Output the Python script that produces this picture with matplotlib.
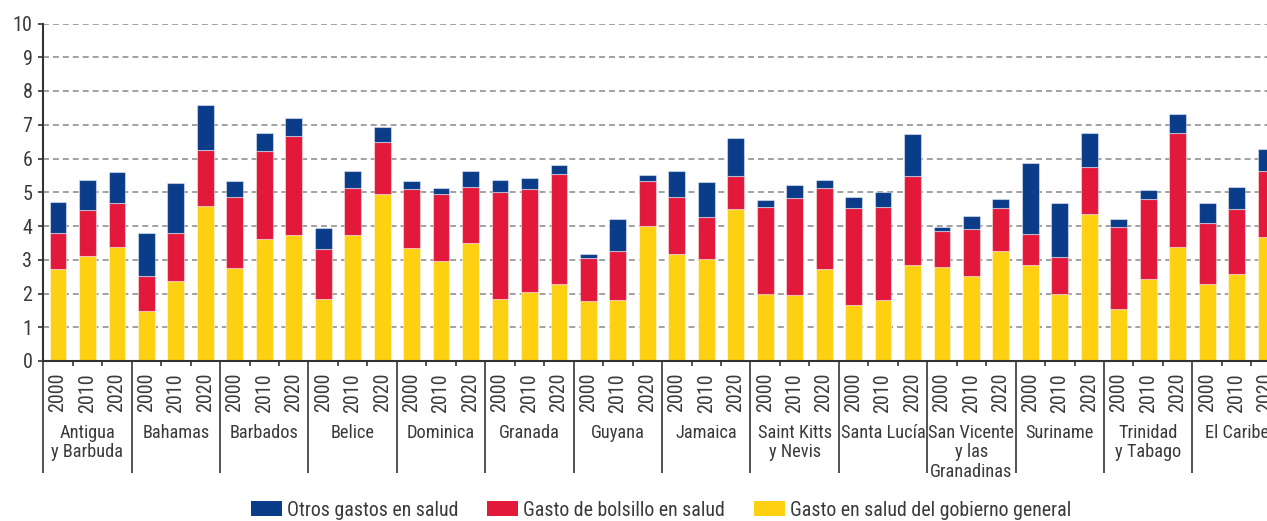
import matplotlib
matplotlib.use("Agg")
import matplotlib.pyplot as plt
from matplotlib import font_manager as fm
from matplotlib.patches import Patch
from matplotlib.ticker import FixedLocator, NullFormatter
import numpy as np

# ---- data -------------------------------------------------------------
countries = ["Antigua\ny Barbuda", "Bahamas", "Barbados", "Belice", "Dominica",
             "Granada", "Guyana", "Jamaica", "Saint Kitts\ny Nevis", "Santa Lucía",
             "San Vicente\ny las\nGranadinas", "Suriname", "Trinidad\ny Tabago",
             "El Caribe"]
years = ["2000", "2010", "2020"]

# general-government health expenditure (% of GDP)
gobierno = [2.72, 3.12, 3.37,  1.49, 2.36, 4.58,  2.76, 3.61, 3.73,
            1.84, 3.73, 4.96,  3.34, 2.95, 3.50,  1.84, 2.05, 2.27,
            1.78, 1.81, 4.01,  3.18, 3.03, 4.49,  2.00, 1.95, 2.74,
            1.66, 1.81, 2.83,  2.78, 2.53, 3.25,  2.83, 1.98, 4.37,
            1.55, 2.44, 3.37,  2.29, 2.57, 3.66]
# out-of-pocket health expenditure
bolsillo = [1.06, 1.34, 1.30,  1.04, 1.44, 1.66,  2.10, 2.60, 2.94,
            1.47, 1.39, 1.52,  1.77, 2.01, 1.66,  3.18, 3.06, 3.26,
            1.28, 1.46, 1.31,  1.67, 1.25, 1.00,  2.55, 2.88, 2.40,
            2.86, 2.75, 2.66,  1.07, 1.38, 1.28,  0.92, 1.11, 1.39,
            2.42, 2.36, 3.40,  1.79, 1.93, 1.97]
# other health expenditure
otros = [0.92, 0.91, 0.93,  1.26, 1.46, 1.35,  0.46, 0.56, 0.52,
         0.62, 0.50, 0.44,  0.21, 0.18, 0.48,  0.34, 0.30, 0.29,
         0.12, 0.93, 0.18,  0.79, 1.01, 1.11,  0.23, 0.38, 0.22,
         0.33, 0.46, 1.24,  0.11, 0.38, 0.28,  2.11, 1.60, 1.00,
         0.25, 0.27, 0.54,  0.61, 0.67, 0.65]

series_labels = ["Otros gastos en salud", "Gasto de bolsillo en salud",
                 "Gasto en salud del gobierno general"]

# ---- styling ----------------------------------------------------------
C_BLUE = "#0b3c8a"
C_RED = "#e2193a"
C_YELLOW = "#fdd012"
TXT = "#3a3a3a"

# pick a narrow sans-serif if one is installed
available = {f.name for f in fm.fontManager.ttflist}
stretch = "normal"
family = "Roboto"
for cand in ["Roboto Condensed", "Liberation Sans Narrow", "Open Sans Condensed"]:
    if cand in available:
        family = cand
        break
else:
    if any(f.name == "DejaVu Sans" and f.stretch == "condensed" for f in fm.fontManager.ttflist):
        family = "DejaVu Sans"
        stretch = "condensed"
plt.rcParams["font.family"] = [family, "DejaVu Sans"]
plt.rcParams["font.stretch"] = stretch

W, H = 1267, 521
fig = plt.figure(figsize=(W / 100, H / 100), dpi=100)
# axes runs slightly past the right edge of the canvas
ax = fig.add_axes([43.3 / W, 1 - 361 / H, 1237.5 / W, 337.5 / H])

n = len(gobierno)
x = np.arange(n)
g = np.array(gobierno)
b = np.array(bolsillo)
o = np.array(otros)
bw = 0.57
edge = (1, 1, 1, 0.45)
ax.bar(x, g, width=bw, color=C_YELLOW, edgecolor=edge, linewidth=0.8, zorder=3)
ax.bar(x, b, width=bw, bottom=g, color=C_RED, edgecolor=edge, linewidth=0.8, zorder=3)
ax.bar(x, o, width=bw, bottom=g + b, color=C_BLUE, edgecolor=edge, linewidth=0.8, zorder=3)

ax.set_xlim(-0.5, n - 0.5)
ax.set_ylim(0, 10)

# grid
ax.set_yticks(np.arange(0, 11, 1))
for v in range(1, 11):
    ax.axhline(v, color="#9a9a9a", lw=1.3, ls=(0, (3.3, 2.2)), zorder=1)

for s in ["top", "right"]:
    ax.spines[s].set_visible(False)
for s in ["left", "bottom"]:
    ax.spines[s].set_color("#333333")
    ax.spines[s].set_linewidth(1.5)
ax.spines["bottom"].set_zorder(5)

ax.tick_params(axis="y", direction="out", length=3.8, width=1.3, color="#444444",
               labelsize=14.5, labelcolor=TXT, pad=4)

# x: long separators between countries, short ticks between years
ngroups = len(countries)
ax.xaxis.set_major_locator(FixedLocator(np.arange(ngroups + 1) * 3 - 0.5))
minor = [3 * k + 0.5 for k in range(ngroups)] + [3 * k + 1.5 for k in range(ngroups)]
ax.xaxis.set_minor_locator(FixedLocator(minor))
ax.xaxis.set_major_formatter(NullFormatter())
ax.tick_params(axis="x", which="major", direction="out", length=80.5, width=1.3,
               color="#444444")
ax.tick_params(axis="x", which="minor", direction="out", length=3.8, width=1.3,
               color="#444444")

for i in range(n):
    ax.annotate(years[i % 3], xy=(i, 0), xycoords=("data", "axes fraction"),
                xytext=(0, -8.6), textcoords="offset points", rotation=90,
                ha="center", va="top", fontsize=14.5, color=TXT,
                annotation_clip=False)

for k, name in enumerate(countries):
    ax.annotate(name, xy=(3 * k + 1, 0), xycoords=("data", "axes fraction"),
                xytext=(0, -45.0), textcoords="offset points",
                ha="center", va="top", fontsize=13.2, color=TXT,
                linespacing=1.12, annotation_clip=False)

handles = [Patch(facecolor=C_BLUE), Patch(facecolor=C_RED), Patch(facecolor=C_YELLOW)]
fig.legend(handles, series_labels, loc="center", ncol=3, frameon=False,
           bbox_to_anchor=(661 / W, 1 - 510 / H), fontsize=14.3,
           handlelength=1.57, handleheight=0.76, handletextpad=0.25,
           columnspacing=1.45, labelcolor=TXT)

fig.savefig("out.png", dpi=100)
